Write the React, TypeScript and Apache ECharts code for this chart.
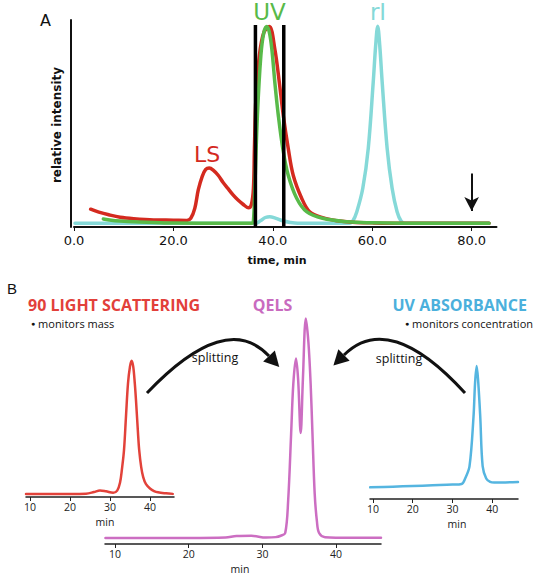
import React, { useEffect, useRef } from 'react';
import * as echarts from 'echarts';

const W = 539;
const H = 577;

// ---------- Panel A data ----------
const panelATicks = [0, 20, 40, 60, 80];
const lsTrace: number[][] = [
  [3.35, 8.6], [5, 7.2], [7, 5.9], [9.3, 4.7], [12, 4.0], [16, 3.4], [20, 3.3], [22.7, 3.2],
  [23.5, 4.2], [24.3, 9], [25, 17.9], [25.8, 24.5], [26.5, 27.8], [27.2, 28.5], [28, 27.5],
  [29, 25], [30, 21.5], [31, 18.5], [32, 15.5], [33, 13], [34, 11], [35.1, 9.3], [35.7, 11],
  [36.1, 18.7], [36.3, 38], [36.6, 62], [37.3, 83], [38.2, 94], [39.3, 96.8], [40.4, 86],
  [41.3, 70], [42.1, 54], [43.1, 38], [44.1, 25], [45.8, 13.9], [47.4, 7.4], [50, 4.5],
  [53, 3], [56, 2.3], [60, 2], [66, 1.8], [83.5, 1.8],
];
const uvTrace: number[][] = [
  [5.9, 3.9], [7.5, 3.3], [9.3, 2.9], [12, 2.5], [16, 2.2], [20, 1.9], [30, 1.8], [35.8, 1.8],
  [36.1, 3], [36.4, 20], [36.9, 54], [37.6, 83], [38.2, 94], [38.8, 96.8], [39.3, 94],
  [39.8, 86], [40.4, 70], [41.1, 54], [42, 38], [43.1, 25], [44.8, 13.9], [46.8, 7.4],
  [50, 4.2], [55, 2.5], [60, 2], [66, 1.8], [83.5, 1.8],
];
const riTrace: number[][] = [
  [0.2, 1.8], [36.5, 1.8], [37.5, 3], [38.5, 4.6], [39.4, 5], [40.5, 4.3], [42, 3], [43.5, 2.2],
  [45, 1.8], [55.5, 1.8], [56.1, 2.9], [56.9, 7.4], [58.1, 18.7], [59.2, 38], [60.2, 70],
  [60.7, 88], [61.1, 97], [61.5, 88], [62.0, 70], [63.0, 38], [64.0, 18.7], [65.0, 7.4],
  [65.8, 2.9], [66.5, 1.8], [83.5, 1.8],
];
const cutTimes = [36.5, 42.2];
const cutTop = 97.6;
const arrowTime = 80;
const arrowFrom = 25.8;
const arrowTo = 7.7;

// ---------- Panel B data ----------
const panelBTicks = [10, 20, 30, 40];
const scatterTrace: number[][] = [
  [9, 2.1], [15, 2.1], [20, 2.1], [24, 2.3], [26, 3.5], [27.5, 4.6], [29, 4], [30.8, 3],
  [31.8, 4.5], [32.5, 10], [33, 20], [33.5, 33], [34, 57], [34.5, 80], [35, 92], [35.4, 96],
  [35.8, 92], [36.2, 80], [36.5, 68], [37, 45], [37.3, 33], [37.8, 21], [38.3, 14], [39, 9],
  [40, 6], [41, 4.2], [42, 3.3], [44, 2.6], [45.7, 2.2],
];
const qelsTrace: number[][] = [
  [8.7, 2.6], [20, 2.6], [25, 2.8], [26.5, 3.5], [28.5, 3.6], [30.5, 2.8], [31.8, 3],
  [32.5, 3.6], [33.1, 4.8], [33.5, 19], [33.9, 48], [34.2, 70], [34.56, 81], [34.85, 72],
  [35.2, 48.5], [35.5, 72], [35.9, 98.5], [36.25, 88], [36.55, 70], [36.8, 48], [37.1, 22],
  [37.4, 10], [37.7, 4.8], [38.5, 3], [42, 2.7], [46.1, 2.7],
];
const absorbTrace: number[][] = [
  [9.3, 8.5], [15, 9], [20, 9.5], [25, 10], [30, 10.5], [32.3, 11], [33.2, 15], [34.3, 24],
  [35.3, 60], [35.7, 85], [36.1, 97], [36.5, 85], [37, 60], [37.6, 24], [38.5, 15],
  [39.5, 12.5], [40.5, 12], [46.5, 12.4],
];

const FA = '"DejaVu Sans", sans-serif';
const FB = '"Open Sans", sans-serif';

function arrowHead(cx: number, cy: number, ex: number, ey: number, len: number, half: number) {
  const dx = ex - cx;
  const dy = ey - cy;
  const n = Math.hypot(dx, dy);
  const ux = dx / n;
  const uy = dy / n;
  const tip = [ex + ux * len, ey + uy * len];
  const px = -uy;
  const py = ux;
  return [tip, [ex + px * half, ey + py * half], [ex - px * half, ey - py * half]];
}

export default function App() {
  const ref = useRef<HTMLDivElement>(null);
  useEffect(() => {
    const chart = echarts.init(ref.current!, null, { renderer: 'svg', width: W, height: H });

    const bAxis = (grid: number, min: number, max: number) => ({
      type: 'value', gridIndex: grid, min, max,
      axisLine: { show: true, onZero: false, lineStyle: { color: '#222', width: 1.5 } },
      axisTick: { show: true, inside: false, length: 4, lineStyle: { color: '#222', width: 1 }, customValues: panelBTicks },
      axisLabel: { show: true, margin: 4, fontSize: 10.5, fontFamily: FB, color: '#222', customValues: panelBTicks },
      splitLine: { show: false },
    });
    const hiddenY = (grid: number) => ({ type: 'value', gridIndex: grid, min: 0, max: 100, show: false });

    const lineSeries = (name: string, data: number[][], color: string, width: number, x: number, y: number, z = 2) => ({
      name, type: 'line', data, xAxisIndex: x, yAxisIndex: y, smooth: 0.35, showSymbol: false, symbol: 'none',
      lineStyle: { color, width, cap: 'round', join: 'round' }, z, silent: true,
    });

    const leftHead = arrowHead(226, 310, 269, 356, 15, 8);
    const rightHead = arrowHead(389, 310, 344, 355, 15, 8);

    const txt = (text: string, x: number, y: number, size: number, fill: string, family: string, weight = 'normal', align = 'left', extra: any = {}) => ({
      type: 'text', x, y, ...extra,
      style: { text, fill, fontSize: size, fontFamily: family, fontWeight: weight, textAlign: align, textVerticalAlign: 'middle' },
    });
    const bullet = (text: string, x: number, y: number, align: string) => ({
      type: 'text', x, y,
      style: {
        text: '{b|●} ' + text, fill: '#111', fontSize: 11, fontFamily: FB, textAlign: align, textVerticalAlign: 'middle',
        rich: { b: { fontSize: 7, fill: '#111', fontFamily: FB, verticalAlign: 'middle' } },
      },
    });

    const option: any = {
      animation: false,
      backgroundColor: '#ffffff',
      grid: [
        { left: 74, top: 20, width: 422.5, height: 207 },
        { left: 26, top: 355, width: 148, height: 142 },
        { left: 105, top: 315, width: 276, height: 229 },
        { left: 370, top: 362, width: 148, height: 137 },
      ],
      xAxis: [
        {
          type: 'value', gridIndex: 0, min: 0, max: 85,
          axisLine: { show: true, onZero: false, lineStyle: { color: '#111', width: 2 } },
          axisTick: { show: true, inside: false, length: 4, lineStyle: { color: '#111', width: 1 }, customValues: panelATicks },
          axisLabel: { show: true, margin: 7, fontSize: 13, fontFamily: FA, color: '#111', customValues: panelATicks, formatter: (v: number) => v.toFixed(1) },
          splitLine: { show: false },
        },
        bAxis(1, 9, 46),
        bAxis(2, 8.64, 46.1),
        bAxis(3, 9.25, 46.5),
      ],
      yAxis: [
        {
          type: 'value', gridIndex: 0, min: 0, max: 100, offset: 3,
          axisLine: { show: true, onZero: false, lineStyle: { color: '#111', width: 2 } },
          axisTick: { show: false }, axisLabel: { show: false }, splitLine: { show: false },
        },
        hiddenY(1), hiddenY(2), hiddenY(3),
      ],
      series: [
        lineSeries('rI', riTrace, '#85d9d8', 3.5, 0, 0, 2),
        lineSeries('LS', lsTrace, '#d42a1f', 3.5, 0, 0, 3),
        lineSeries('UV', uvTrace, '#58ba49', 3.5, 0, 0, 4),
        ...cutTimes.map((t) => ({
          type: 'line', xAxisIndex: 0, yAxisIndex: 0, data: [[t, 0], [t, cutTop]], showSymbol: false, symbol: 'none',
          lineStyle: { color: '#000', width: 3.5, cap: 'butt' }, z: 5, silent: true,
        })),
        {
          type: 'line', xAxisIndex: 0, yAxisIndex: 0, data: [], silent: true,
          markLine: {
            silent: true, symbol: ['none', 'arrow'], symbolSize: [11, 14], animation: false,
            label: { show: false },
            lineStyle: { color: '#111', width: 2, type: 'solid' },
            data: [[{ coord: [arrowTime, arrowFrom] }, { coord: [arrowTime, arrowTo] }]],
          },
        },
        lineSeries('90 light scattering', scatterTrace, '#e2423a', 2.5, 1, 1),
        lineSeries('QELS', qelsTrace, '#cc6ec2', 2.5, 2, 2),
        lineSeries('UV absorbance', absorbTrace, '#55b5e0', 2.5, 3, 3),
      ],
      graphic: [
        txt('A', 40, 20, 16, '#111', FA),
        txt('UV', 269.5, 12, 23, '#58ba49', FA, 'normal', 'center'),
        txt('rI', 378, 12, 23, '#85d9d8', FA, 'normal', 'center'),
        txt('LS', 207, 154, 22, '#d42a1f', FA, 'normal', 'center'),
        txt('time, min', 277, 260, 11, '#111', FA, 'bold', 'center'),
        txt('relative intensity', 56.5, 125, 12, '#111', FA, 'bold', 'center', { rotation: Math.PI / 2 }),
        txt('B', 7, 288, 15, '#111', '"Liberation Sans", sans-serif'),
        txt('90 LIGHT SCATTERING', 28, 304.5, 16, '#e2403a', FB, 'bold'),
        bullet('monitors mass', 31, 323, 'left'),
        txt('QELS', 272.5, 304.5, 16, '#c96bbf', FB, 'bold', 'center'),
        txt('UV ABSORBANCE', 527, 304.5, 16, '#4bb0dc', FB, 'bold', 'right'),
        bullet('monitors concentration', 533, 323, 'right'),
        txt('splitting', 215, 357, 12.5, '#111', FB, 'normal', 'center'),
        txt('splitting', 399, 358, 12.5, '#111', FB, 'normal', 'center'),
        txt('min', 105, 521.5, 10.5, '#222', FB, 'normal', 'center'),
        txt('min', 240, 569, 10.5, '#222', FB, 'normal', 'center'),
        txt('min', 457, 523.5, 10.5, '#222', FB, 'normal', 'center'),
        {
          type: 'bezierCurve',
          shape: { x1: 147, y1: 393, cpx1: 226, cpy1: 310, x2: 269, y2: 356 },
          style: { stroke: '#111', lineWidth: 3, fill: 'none' },
        },
        { type: 'polygon', shape: { points: leftHead }, style: { fill: '#111' } },
        {
          type: 'bezierCurve',
          shape: { x1: 465, y1: 393, cpx1: 389, cpy1: 310, x2: 344, y2: 355 },
          style: { stroke: '#111', lineWidth: 3, fill: 'none' },
        },
        { type: 'polygon', shape: { points: rightHead }, style: { fill: '#111' } },
      ],
    };
    chart.setOption(option);
    return () => chart.dispose();
  }, []);
  return <div ref={ref} style={{ position: 'absolute', left: 0, top: 0, width: W, height: H, background: '#fff' }} />;
}
